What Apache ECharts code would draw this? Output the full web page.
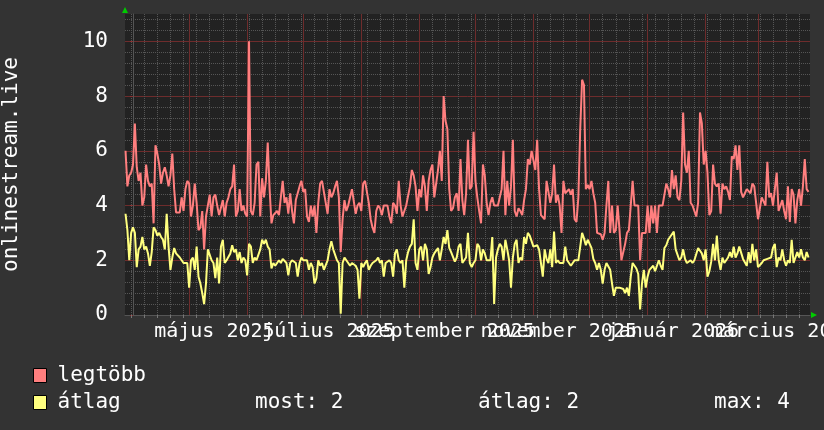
<!DOCTYPE html>
<html><head><meta charset="utf-8">
<script src="https://cdn.jsdelivr.net/npm/echarts@6/dist/echarts.min.js"></script>
<style>html,body{margin:0;padding:0;background:#333333;}#c{width:824px;height:430px;}</style>
</head><body><div id="c"></div>
<script>
// ---- data ----
const seriesNames = ['legtöbb', 'átlag'];
const startDate = '2025-03-28T00:00:00Z';   // first daily sample
const rangeStart = '2025-03-27T17:15:00Z';
const rangeEnd = '2026-03-28T19:00:00Z';
const legtobb = [
6.0,4.7,5.1,5.2,5.5,7.0,5.4,4.9,5.2,4.0,
4.3,5.5,4.9,4.7,4.8,3.35,6.2,5.9,5.5,4.8,
5.2,5.4,5.1,4.7,5.1,5.9,4.6,3.75,3.8,3.75,
4.3,3.8,4.6,4.9,4.8,3.6,4.0,4.8,4.1,3.1,
3.2,3.8,2.4,3.6,4.0,4.4,3.6,4.3,4.4,4.0,
3.65,3.7,4.2,3.6,4.1,4.3,4.6,4.7,5.5,3.6,
3.8,4.6,3.8,4.0,3.7,3.6,10.0,3.8,3.65,4.1,
5.5,5.6,3.6,5.0,4.3,4.9,6.3,4.6,3.35,3.65,
3.7,3.8,3.65,4.3,4.9,4.1,4.3,3.7,4.45,3.8,
3.35,4.2,4.45,4.7,4.9,4.5,4.6,3.6,3.4,4.0,
3.6,4.0,3.0,4.1,4.8,4.9,4.9,4.1,3.7,4.6,
4.3,4.45,4.7,4.9,4.3,2.3,3.5,4.2,3.8,4.0,
4.3,4.6,4.6,3.7,4.0,4.1,3.8,4.8,4.9,4.9,
4.1,3.5,3.2,3.0,3.8,4.0,3.9,3.65,4.0,4.0,
4.0,3.6,3.35,4.1,4.0,3.7,4.9,4.0,3.6,3.8,
4.0,4.0,4.7,5.3,5.1,4.7,3.8,4.6,4.3,5.1,
4.7,3.8,4.9,5.3,5.5,4.3,4.3,5.3,6.0,4.9,
8.0,7.1,6.8,4.6,3.8,3.9,4.3,4.45,3.8,5.7,
4.2,3.65,4.45,6.4,4.6,4.7,6.7,4.9,4.3,3.8,
3.35,5.5,5.1,4.1,3.65,4.1,4.3,4.0,4.0,4.0,
4.0,4.6,6.0,3.65,4.9,4.0,4.7,6.4,3.8,3.6,
3.9,3.8,3.65,4.2,4.6,5.7,5.5,6.0,6.0,5.3,
6.4,4.6,3.65,3.6,3.5,4.9,4.5,4.1,4.45,5.5,
4.1,4.4,4.0,3.0,4.9,4.45,4.4,4.6,4.4,4.6,
3.5,3.4,4.3,6.8,8.6,8.4,4.6,4.75,4.6,4.9,
4.45,4.1,3.0,3.0,2.95,2.75,3.0,4.0,4.9,3.0,
4.0,3.0,3.1,4.0,3.1,2.0,2.0,2.6,3.0,3.1,
4.0,4.9,4.0,4.0,4.0,2.0,3.0,3.0,3.0,4.0,
3.0,4.0,3.35,4.0,3.0,4.0,4.0,4.0,4.0,4.8,
4.6,4.3,5.3,4.6,5.1,4.3,4.2,4.9,7.4,5.5,
5.2,6.0,4.1,4.0,4.0,3.6,4.1,7.4,7.0,5.5,
6.0,5.2,3.65,3.8,5.5,4.8,4.7,4.8,3.7,4.8,
4.6,4.7,4.5,4.2,5.8,5.7,6.2,5.3,6.2,4.5,
4.3,4.45,4.6,4.6,4.45,4.8,4.7,4.1,3.5,3.5,
4.3,4.3,4.0,5.6,4.3,4.45,4.0,4.6,5.2,3.8,
3.8,4.2,3.8,3.5,4.7,3.4,4.6,4.4,3.35,4.2,
4.6,4.0,4.7,5.7,4.6,4.5
];
const atlag = [
3.7,3.1,2.0,3.0,3.2,3.0,1.75,2.4,2.5,2.85,
2.4,2.5,2.25,1.8,2.3,3.2,3.1,2.9,3.0,2.85,
2.75,2.4,3.7,2.5,1.65,2.1,2.45,2.25,2.2,2.1,
2.0,1.9,1.9,1.9,1.0,2.0,2.1,1.65,2.5,1.4,
1.15,0.8,0.4,1.15,2.4,2.4,2.0,1.9,1.35,2.1,
1.15,2.5,2.75,1.9,2.0,2.0,2.25,2.55,2.3,2.4,
2.0,2.3,1.9,2.1,2.0,1.45,2.6,2.5,1.9,2.1,
2.0,2.0,2.4,2.75,2.6,2.75,2.5,2.4,1.7,1.9,
1.8,1.9,2.0,1.9,2.05,2.0,1.9,1.45,1.9,2.0,
2.0,1.9,1.4,1.9,2.1,2.0,2.05,2.0,1.65,1.9,
1.75,1.15,1.35,2.0,1.8,1.9,1.65,1.65,2.0,2.4,
2.7,2.4,2.4,2.0,1.9,0.05,1.9,2.1,2.1,1.9,
1.8,1.9,1.9,1.8,1.65,0.6,1.9,1.75,1.9,2.0,
1.65,1.8,1.9,1.95,2.0,2.1,1.9,2.0,1.4,1.9,
1.95,2.0,1.9,1.4,2.25,2.4,2.0,1.9,2.0,1.0,
2.0,2.3,2.5,2.6,3.5,1.9,1.65,2.4,2.5,2.0,
2.6,2.4,1.5,1.75,2.1,2.25,2.3,2.45,2.0,2.4,
2.85,2.6,3.1,2.45,2.3,2.25,1.95,2.1,2.5,2.6,
1.9,2.0,2.1,3.0,1.9,1.75,1.9,2.0,2.6,2.5,
2.0,2.4,2.25,2.0,2.0,2.0,2.85,0.4,2.1,2.4,
2.6,2.5,2.0,2.75,2.4,2.0,1.0,2.1,2.6,2.75,
1.9,2.1,2.0,2.85,2.6,3.0,2.9,2.85,2.5,2.55,
2.55,2.4,1.9,1.4,2.4,2.05,1.9,2.4,1.75,3.05,
1.9,2.0,1.9,1.95,1.9,2.5,2.0,1.9,1.8,1.9,
2.0,2.0,2.0,2.0,3.0,2.8,2.55,2.75,2.75,2.45,
2.05,1.9,1.65,1.9,1.65,1.15,1.65,1.9,1.9,1.65,
1.15,0.7,1.0,0.95,1.0,0.95,0.95,0.8,1.0,0.7,
1.4,1.9,1.9,1.7,1.5,0.2,1.15,1.65,1.0,1.4,
1.65,1.7,1.8,1.6,1.65,2.0,1.8,1.65,2.45,2.55,
2.75,2.85,2.8,3.05,2.4,2.45,2.0,2.1,2.4,2.05,
1.9,1.9,2.0,1.9,2.0,2.05,2.45,2.4,2.25,2.0,
2.4,1.4,1.6,1.95,2.6,2.0,2.9,2.0,1.65,2.1,
1.9,2.0,2.1,2.3,2.1,2.5,2.1,2.25,2.5,2.45,
2.05,2.0,1.8,2.3,1.9,2.6,2.0,2.4,1.75,1.7,
1.9,2.0,2.0,2.05,2.0,2.1,2.45,2.6,1.75,2.1,
2.0,2.4,2.0,1.8,2.0,1.9,2.75,1.9,1.9,2.3,
2.1,2.4,2.1,2.0,2.3,2.1
];
const yTicks = [0, 2, 4, 6, 8, 10];
const xLabelMonths = ['2025-05', '2025-07', '2025-09', '2025-11', '2026-01', '2026-03'];
const xLabels = ['május 2025', 'július 2025', 'szeptember 2025', 'november 2025', 'január 2026', 'március 2026'];
const statLabels = ['most', 'átlag', 'max'];

// ---- helpers (time -> day offsets) ----
const DAY = 864e5;
const origin = Date.UTC(2025, 3, 1);
const toDay = t => ((typeof t === 'string' ? Date.parse(t) : t) - origin) / DAY;
const firstDay = toDay(startDate);
const xMin = toDay(rangeStart), xMax = toDay(rangeEnd);
const yMax = 11;
const yMinorStep = 0.4;
const FONT = 'DejaVu Sans Mono';

const monthStarts = [];
for (let k = -1; k < 14; k++) { const d = toDay(Date.UTC(2025, 3 + k, 1)); if (d >= xMin && d <= xMax) monthStarts.push(d); }
const mondays = [];
for (let d = toDay(Date.UTC(2025, 2, 31)); d <= xMax; d += 7) if (d >= xMin) mondays.push(d);
const labelPos = xLabelMonths.map(s => { const [y, m] = s.split('-').map(Number); return toDay(Date.UTC(y, m - 1, 14, 12)); });
const yMinor = [];
for (let k = 1; k * yMinorStep < yMax; k++) { const v = Math.round(k * yMinorStep * 10) / 10; if (!yTicks.includes(v)) yMinor.push(v); }

const minorStyle = { color: '#555555', type: [1, 1], width: 1 };
const majorStyle = { color: '#6e2c2c', type: 'solid', width: 1 };

const toSeries = arr => arr.map((v, i) => [firstDay + i, v]);
const last = atlag[atlag.length - 1];
const avg = atlag.reduce((a, b) => a + b, 0) / atlag.length;
const mx = Math.max(...atlag);
const statValues = [last, avg, mx].map(v => Math.round(v).toString());

// label slots: blank guards at the axis ends so the real first/last labels are never culled
const labelSlots = [xMin].concat(labelPos, [xMax]);

const hiddenAxis = { axisLine: { show: false }, axisLabel: { show: false } };
const chart = echarts.init(document.getElementById('c'), null, { renderer: 'canvas' });
chart.setOption({
  backgroundColor: '#333333',
  animation: false,
  grid: { left: 125, right: 14, top: 14, bottom: 115, containLabel: false, outerBoundsMode: 'none',
          show: true, backgroundColor: '#222222', borderWidth: 0 },
  xAxis: [{
    type: 'value', min: xMin, max: xMax, position: 'bottom',
    axisLine: { show: true, lineStyle: { color: '#555555', width: 1 } },
    axisTick: { show: true, customValues: mondays, length: 3, lineStyle: { color: '#777777' } },
    axisLabel: {
      customValues: labelSlots, color: '#ffffff', fontFamily: FONT, fontSize: 20, margin: 7,
      showMinLabel: false, showMaxLabel: false, hideOverlap: false,
      formatter: v => { const i = labelPos.findIndex(p => Math.abs(p - v) < 0.01); return i >= 0 ? xLabels[i] : ' '; }
    },
    splitLine: { show: true, lineStyle: minorStyle }
  }, Object.assign({
    type: 'value', min: xMin, max: xMax, position: 'top',
    axisTick: { show: false, customValues: monthStarts },
    splitLine: { show: true, lineStyle: majorStyle }
  }, hiddenAxis)],
  yAxis: [{
    type: 'value', min: 0, max: yMax, position: 'left',
    axisLine: { show: true, lineStyle: { color: '#555555', width: 1 } },
    axisTick: { show: true, customValues: yTicks, length: 3, lineStyle: { color: '#8a3030' } },
    axisLabel: { customValues: yTicks, color: '#ffffff', fontFamily: FONT, fontSize: 21, margin: 17, showMinLabel: true, showMaxLabel: true },
    splitLine: { show: true, lineStyle: majorStyle },
    name: 'onlinestream.live', nameLocation: 'middle', nameRotate: 90, nameGap: 103,
    nameTextStyle: { color: '#ffffff', fontFamily: FONT, fontSize: 21 }
  }, Object.assign({
    type: 'value', min: 0, max: yMax, position: 'right',
    axisTick: { show: false, customValues: yMinor },
    splitLine: { show: true, lineStyle: minorStyle }
  }, hiddenAxis)],
  legend: {
    data: seriesNames, orient: 'vertical', left: 28, top: 360, icon: 'rect',
    itemWidth: 13, itemHeight: 14, itemGap: 6, selectedMode: false,
    itemStyle: { borderColor: '#000000', borderWidth: 1 },
    textStyle: { color: '#ffffff', fontFamily: FONT, fontSize: 21, padding: [0, 0, 0, 6] }
  },
  graphic: [
    { type: 'polygon', shape: { points: [[122, 13], [128, 13], [125, 7]] }, style: { fill: '#00cc00' } },
    { type: 'polygon', shape: { points: [[811, 312], [811, 318], [817, 315]] }, style: { fill: '#00cc00' } },
    { type: 'text', left: 255, top: 392, style: { text: statLabels[0] + ': ' + statValues[0], fill: '#ffffff', font: '21px "DejaVu Sans Mono"' } },
    { type: 'text', left: 478, top: 392, style: { text: statLabels[1] + ': ' + statValues[1], fill: '#ffffff', font: '21px "DejaVu Sans Mono"' } },
    { type: 'text', left: 714, top: 392, style: { text: statLabels[2] + ': ' + statValues[2], fill: '#ffffff', font: '21px "DejaVu Sans Mono"' } }
  ],
  series: [
    { name: seriesNames[0], type: 'line', data: toSeries(legtobb), showSymbol: false, z: 3,
      lineStyle: { color: '#ff7f7f', width: 2 }, itemStyle: { color: '#ff7f7f' } },
    { name: seriesNames[1], type: 'line', data: toSeries(atlag), showSymbol: false, z: 4,
      lineStyle: { color: '#ffff7f', width: 2 }, itemStyle: { color: '#ffff7f' } }
  ]
});
</script>
</body></html>
